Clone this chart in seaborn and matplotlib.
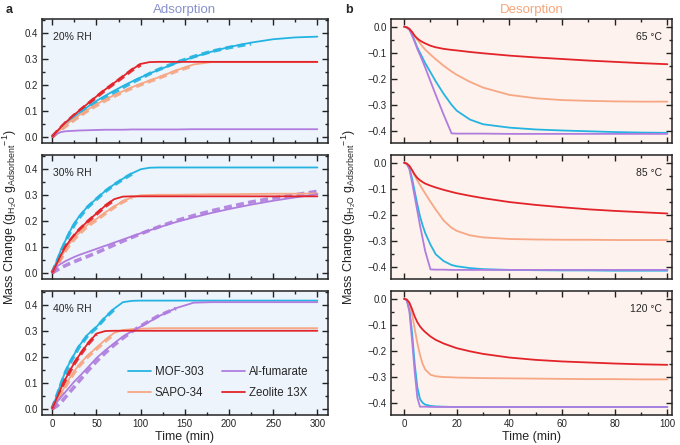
import numpy as np
import pandas as pd
import matplotlib
matplotlib.use("Agg")
import matplotlib.pyplot as plt
from matplotlib.ticker import MultipleLocator
import seaborn as sns

# ---- data ----
materials = ["MOF-303", "SAPO-34", "Al-fumarate", "Zeolite 13X"]
colores = {"MOF-303": "#25b4e2", "SAPO-34": "#f7a784",
           "Al-fumarate": "#b07ddf", "Zeolite 13X": "#e3232a"}

t_ads = [0, 5, 10, 15, 20, 25, 30, 40, 50, 60, 70, 80, 90, 100, 110, 120,
         140, 160, 180, 200, 225, 250, 275, 300]

# 20% RH, model (solid)
mof_20 = [0, 0.018, 0.035, 0.05, 0.065, 0.078, 0.09, 0.115, 0.138, 0.158, 0.177, 0.195,
          0.212, 0.228, 0.243, 0.257, 0.283, 0.307, 0.327, 0.345, 0.362, 0.375, 0.382, 0.385]
sapo_20 = [0, 0.015, 0.03, 0.045, 0.058, 0.07, 0.082, 0.104, 0.125, 0.143, 0.16, 0.175,
           0.19, 0.203, 0.216, 0.228, 0.255, 0.278, 0.287, 0.287, 0.287, 0.287, 0.287, 0.287]
alfu_20 = [0, 0.012, 0.018, 0.021, 0.022, 0.023, 0.024, 0.025, 0.026, 0.027, 0.027, 0.027,
           0.028, 0.028, 0.028, 0.028, 0.028, 0.029, 0.029, 0.029, 0.029, 0.029, 0.029, 0.029]
zeo_20 = [0, 0.02, 0.038, 0.055, 0.07, 0.085, 0.099, 0.127, 0.155, 0.182, 0.207, 0.232,
          0.258, 0.28, 0.287, 0.288, 0.288, 0.288, 0.288, 0.288, 0.288, 0.288, 0.288, 0.288]
# 20% RH, experiment (dashed)
mof_20_exp = [0, 0.015, 0.03, 0.045, 0.058, 0.07, 0.082, 0.105, 0.128, 0.15, 0.17, 0.19,
              0.208, 0.225, 0.242, 0.258, 0.285, 0.308, 0.328, 0.343, 0.358]
sapo_20_exp = [0, 0.013, 0.027, 0.04, 0.053, 0.065, 0.077, 0.1, 0.12, 0.139, 0.156, 0.172,
               0.187, 0.2, 0.213, 0.225, 0.252, 0.274]
zeo_20_exp = [0, 0.018, 0.036, 0.053, 0.068, 0.083, 0.097, 0.125, 0.153, 0.18, 0.205, 0.23,
              0.256, 0.277]

# 30% RH
mof_30 = [0, 0.045, 0.09, 0.125, 0.16, 0.19, 0.215, 0.255, 0.285, 0.315, 0.34, 0.362,
          0.382, 0.398, 0.404, 0.405, 0.405, 0.405, 0.405, 0.405, 0.405, 0.405, 0.405, 0.405]
sapo_30 = [0, 0.03, 0.06, 0.09, 0.115, 0.135, 0.152, 0.185, 0.207, 0.232, 0.255, 0.275,
           0.29, 0.298, 0.299, 0.3, 0.3, 0.301, 0.302, 0.302, 0.303, 0.304, 0.304, 0.305]
alfu_30 = [0, 0.025, 0.035, 0.045, 0.053, 0.061, 0.068, 0.08, 0.092, 0.104, 0.116, 0.128,
           0.14, 0.152, 0.163, 0.174, 0.195, 0.213, 0.23, 0.245, 0.262, 0.277, 0.29, 0.302]
zeo_30 = [0, 0.035, 0.07, 0.1, 0.125, 0.145, 0.165, 0.198, 0.228, 0.258, 0.283, 0.293,
          0.294, 0.294, 0.294, 0.294, 0.294, 0.294, 0.294, 0.294, 0.294, 0.294, 0.294, 0.294]
mof_30_exp = [0, 0.04, 0.08, 0.12, 0.155, 0.185, 0.21, 0.252, 0.283, 0.313, 0.338, 0.36, 0.38]
sapo_30_exp = [0, 0.027, 0.055, 0.085, 0.11, 0.13, 0.148, 0.18, 0.203, 0.228, 0.252, 0.273, 0.289]
alfu_30_exp = [0, 0.01, 0.02, 0.028, 0.036, 0.043, 0.05, 0.063, 0.077, 0.092, 0.107, 0.122,
               0.136, 0.15, 0.163, 0.176, 0.2, 0.22, 0.238, 0.254, 0.272, 0.287, 0.3, 0.313]
zeo_30_exp = [0, 0.033, 0.068, 0.098, 0.122, 0.143, 0.163, 0.196, 0.226, 0.256, 0.28]

# 40% RH
mof_40 = [0, 0.05, 0.1, 0.145, 0.18, 0.21, 0.24, 0.285, 0.315, 0.352, 0.385, 0.41,
          0.415, 0.416, 0.416, 0.416, 0.416, 0.416, 0.416, 0.416, 0.416, 0.416, 0.416, 0.416]
sapo_40 = [0, 0.03, 0.06, 0.09, 0.12, 0.145, 0.168, 0.205, 0.235, 0.265, 0.292, 0.303,
           0.306, 0.308, 0.309, 0.31, 0.31, 0.31, 0.31, 0.31, 0.31, 0.31, 0.31, 0.31]
alfu_40 = [0, 0.025, 0.045, 0.065, 0.085, 0.105, 0.122, 0.158, 0.195, 0.225, 0.252, 0.278,
           0.298, 0.316, 0.335, 0.355, 0.387, 0.408, 0.41, 0.41, 0.41, 0.41, 0.41, 0.41]
zeo_40 = [0, 0.04, 0.08, 0.115, 0.147, 0.177, 0.203, 0.25, 0.289, 0.299, 0.3, 0.3,
          0.3, 0.3, 0.3, 0.3, 0.3, 0.3, 0.3, 0.3, 0.3, 0.3, 0.3, 0.3]
mof_40_exp = [0, 0.047, 0.095, 0.14, 0.176, 0.206, 0.236, 0.282, 0.312, 0.35, 0.382]
sapo_40_exp = [0, 0.027, 0.056, 0.086, 0.115, 0.14, 0.163, 0.2, 0.23, 0.26, 0.288]
alfu_40_exp = [0, 0.01, 0.025, 0.045, 0.065, 0.085, 0.105, 0.145, 0.182, 0.215, 0.245,
               0.272, 0.297, 0.318, 0.338, 0.357, 0.386]
zeo_40_exp = [0, 0.038, 0.077, 0.112, 0.144, 0.174, 0.2, 0.247, 0.286]

t_des = [0, 1, 2, 3, 4, 5, 6, 7, 8, 10, 12, 15, 18, 20, 25, 30, 40, 50, 60, 70, 80, 90, 100]

# 65 C
mof_65 = [0, -0.003, -0.01, -0.03, -0.055, -0.08, -0.1, -0.12, -0.14, -0.175, -0.21, -0.258,
          -0.3, -0.323, -0.357, -0.375, -0.388, -0.395, -0.399, -0.402, -0.405, -0.407, -0.408]
sapo_65 = [0, -0.002, -0.008, -0.02, -0.035, -0.05, -0.063, -0.076, -0.088, -0.107, -0.125,
           -0.15, -0.172, -0.185, -0.212, -0.234, -0.262, -0.275, -0.282, -0.285, -0.287, -0.288, -0.288]
alfu_65 = [0, -0.003, -0.012, -0.033, -0.058, -0.085, -0.108, -0.132, -0.157, -0.21, -0.262,
           -0.338, -0.41, -0.411, -0.411, -0.411, -0.412, -0.412, -0.412, -0.412, -0.412, -0.412, -0.412]
zeo_65 = [0, -0.002, -0.008, -0.02, -0.035, -0.045, -0.053, -0.059, -0.064, -0.073, -0.079,
          -0.085, -0.089, -0.091, -0.097, -0.102, -0.111, -0.118, -0.124, -0.13, -0.135, -0.14, -0.144]

# 85 C
mof_85 = [0, -0.004, -0.02, -0.06, -0.11, -0.16, -0.205, -0.24, -0.27, -0.315, -0.352, -0.378,
          -0.393, -0.398, -0.405, -0.409, -0.412, -0.413, -0.414, -0.414, -0.415, -0.415, -0.415]
sapo_85 = [0, -0.003, -0.012, -0.03, -0.05, -0.068, -0.085, -0.102, -0.118, -0.15, -0.18,
           -0.222, -0.25, -0.262, -0.279, -0.287, -0.293, -0.295, -0.296, -0.296, -0.297, -0.297, -0.297]
alfu_85 = [0, -0.004, -0.025, -0.075, -0.13, -0.185, -0.24, -0.29, -0.34, -0.41, -0.411,
           -0.411, -0.412, -0.412, -0.412, -0.412, -0.412, -0.412, -0.412, -0.412, -0.412, -0.412, -0.412]
zeo_85 = [0, -0.003, -0.012, -0.028, -0.045, -0.058, -0.067, -0.074, -0.08, -0.088, -0.095,
          -0.104, -0.112, -0.117, -0.127, -0.136, -0.151, -0.162, -0.171, -0.179, -0.185, -0.19, -0.195]

# 120 C
mof_120 = [0, -0.005, -0.04, -0.13, -0.25, -0.34, -0.385, -0.4, -0.407, -0.412, -0.414,
           -0.415, -0.416, -0.416, -0.416, -0.416, -0.416, -0.416, -0.416, -0.416, -0.416, -0.416, -0.416]
sapo_120 = [0, -0.004, -0.02, -0.06, -0.115, -0.17, -0.215, -0.25, -0.272, -0.292, -0.298,
            -0.301, -0.302, -0.303, -0.304, -0.305, -0.306, -0.307, -0.308, -0.309, -0.309, -0.31, -0.31]
alfu_120 = [0, -0.006, -0.05, -0.16, -0.28, -0.38, -0.415, -0.415, -0.415, -0.416, -0.416,
            -0.416, -0.416, -0.416, -0.416, -0.416, -0.416, -0.416, -0.416, -0.416, -0.416, -0.416, -0.416]
zeo_120 = [0, -0.003, -0.015, -0.04, -0.068, -0.09, -0.106, -0.118, -0.128, -0.145, -0.158,
           -0.172, -0.183, -0.19, -0.202, -0.212, -0.226, -0.235, -0.241, -0.245, -0.249, -0.252, -0.254]

ads_panels = [
    ("20% RH", [mof_20, sapo_20, alfu_20, zeo_20], [mof_20_exp, sapo_20_exp, None, zeo_20_exp]),
    ("30% RH", [mof_30, sapo_30, alfu_30, zeo_30], [mof_30_exp, sapo_30_exp, alfu_30_exp, zeo_30_exp]),
    ("40% RH", [mof_40, sapo_40, alfu_40, zeo_40], [mof_40_exp, sapo_40_exp, alfu_40_exp, zeo_40_exp]),
]
des_panels = [
    ("65 °C", [mof_65, sapo_65, alfu_65, zeo_65]),
    ("85 °C", [mof_85, sapo_85, alfu_85, zeo_85]),
    ("120 °C", [mof_120, sapo_120, alfu_120, zeo_120]),
]

# ---- estilo ----
sns.set_style("ticks")
plt.rcParams["font.family"] = ["Liberation Sans", "DejaVu Sans"]
plt.rcParams["mathtext.fontset"] = "custom"
plt.rcParams["mathtext.rm"] = "Liberation Sans"
plt.rcParams["mathtext.it"] = "Liberation Sans"

fondo_izq = "#edf4fb"
fondo_der = "#fdf2ed"

fig = plt.figure(figsize=(6.8, 4.45), dpi=100)

x_izq, w_izq = 0.0613, 0.421
x_der, w_der = 0.575, 0.413
bottoms = [0.6787, 0.373, 0.0674]
h = 0.2787


def estilo_ejes(ax, fondo):
    ax.set_facecolor(fondo)
    for s in ax.spines.values():
        s.set_linewidth(1.1)
        s.set_color("#222222")
    ax.tick_params(which="both", direction="in", top=True, right=True,
                   labelsize=7, width=1.0, color="#222222", pad=3)
    ax.tick_params(which="major", length=4)
    ax.tick_params(which="minor", length=2.5)


ylabel = r"Mass Change (g$_{\mathregular{H_2O}}$ g$_{\mathregular{Adsorbent}}$$^{\mathregular{-1}}$)"

# Adsorción
for i, (etiqueta, modelo, experimento) in enumerate(ads_panels):
    ax = fig.add_axes([x_izq, bottoms[i], w_izq, h])
    estilo_ejes(ax, fondo_izq)
    for mat, y_mod, y_exp in zip(materials, modelo, experimento):
        if y_exp is not None:
            sns.lineplot(x=t_ads[:len(y_exp)], y=y_exp, ax=ax, color=colores[mat],
                         lw=2.6, linestyle=(0, (2.2, 1.2)), alpha=0.9)
    for mat, y_mod in zip(materials, modelo):
        sns.lineplot(x=t_ads, y=y_mod, ax=ax, color=colores[mat], lw=1.3, label=mat)
    ax.set_xlim(-12, 312)
    ax.set_ylim(-0.024, 0.453)
    ax.xaxis.set_major_locator(MultipleLocator(50))
    ax.xaxis.set_minor_locator(MultipleLocator(25))
    ax.yaxis.set_major_locator(MultipleLocator(0.1))
    ax.yaxis.set_minor_locator(MultipleLocator(0.05))
    ax.set_ylabel("")
    ax.text(0.038, 0.855, etiqueta, transform=ax.transAxes, fontsize=7.5,
            va="center", ha="left")
    if i < 2:
        ax.set_xticklabels([])
        ax.get_legend().remove()
    else:
        ax.set_xlabel("Time (min)", fontsize=9, labelpad=1)
        ax.legend(ncol=2, frameon=False, fontsize=8.3, loc="lower left",
                  bbox_to_anchor=(0.30, 0.13), handlelength=2.0, handletextpad=0.35,
                  columnspacing=1.6, labelspacing=0.75, borderaxespad=0, borderpad=0)

# Desorción
for i, (etiqueta, curvas) in enumerate(des_panels):
    ax = fig.add_axes([x_der, bottoms[i], w_der, h])
    estilo_ejes(ax, fondo_der)
    for mat, y in zip(materials, curvas):
        sns.lineplot(x=t_des, y=y, ax=ax, color=colores[mat], lw=1.3)
    ax.set_xlim(-5, 101.7)
    ax.set_ylim(-0.447, 0.03)
    ax.xaxis.set_major_locator(MultipleLocator(20))
    ax.xaxis.set_minor_locator(MultipleLocator(10))
    ax.yaxis.set_major_locator(MultipleLocator(0.1))
    ax.yaxis.set_minor_locator(MultipleLocator(0.05))
    ax.set_ylabel("")
    ax.text(0.965, 0.855, etiqueta, transform=ax.transAxes, fontsize=7.5,
            va="center", ha="right")
    if i < 2:
        ax.set_xticklabels([])
    else:
        ax.set_xlabel("Time (min)", fontsize=9, labelpad=1)

# textos generales
fig.text(0.008, 0.978, "a", fontsize=9, fontweight="bold", va="center")
fig.text(0.508, 0.978, "b", fontsize=9, fontweight="bold", va="center")
fig.text(x_izq + w_izq / 2, 0.978, "Adsorption", fontsize=9.5, color="#8791cc",
         ha="center", va="center")
fig.text(x_der + w_der / 2, 0.978, "Desorption", fontsize=9.5, color="#f5a57a",
         ha="center", va="center")
fig.text(0.014, 0.512, ylabel, rotation=90, fontsize=9, ha="center", va="center")
fig.text(0.513, 0.512, ylabel, rotation=90, fontsize=9, ha="center", va="center")

fig.savefig("out.png", dpi=100)
